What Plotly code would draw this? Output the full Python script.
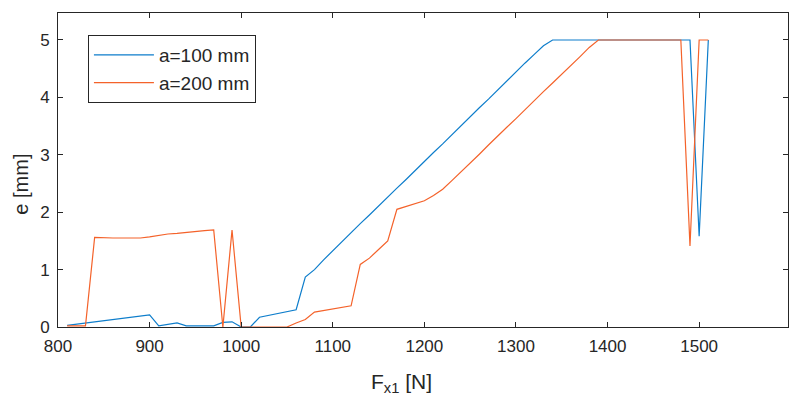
import plotly.graph_objects as go

# Force values F_x1 [N]
fx = [810, 820, 830, 840, 850, 860, 870, 880, 890, 900,
      910, 920, 930, 940, 950, 960, 970, 980, 990, 1000,
      1010, 1020, 1030, 1040, 1050, 1060, 1070, 1080, 1090, 1100,
      1110, 1120, 1130, 1140, 1150, 1160, 1170, 1180, 1190, 1200,
      1210, 1220, 1230, 1240, 1250, 1260, 1270, 1280, 1290, 1300,
      1310, 1320, 1330, 1340, 1350, 1360, 1370, 1380, 1390, 1400,
      1410, 1420, 1430, 1440, 1450, 1460, 1470, 1480, 1490, 1500,
      1510]

e_a100 = [0.03, 0.05, 0.08, 0.10, 0.12, 0.14, 0.16, 0.18, 0.20, 0.21,
          0.02, 0.05, 0.07, 0.02, 0.02, 0.02, 0.02, 0.08, 0.09, 0.00,
          0.00, 0.17, 0.20, 0.23, 0.26, 0.30, 0.87, 1.00, 1.17, 1.33,
          1.49, 1.64, 1.80, 1.95, 2.11, 2.26, 2.42, 2.57, 2.73, 2.88,
          3.04, 3.19, 3.35, 3.51, 3.66, 3.82, 3.97, 4.13, 4.29, 4.44,
          4.60, 4.75, 4.90, 5.00, 5.00, 5.00, 5.00, 5.00, 5.00, 5.00,
          5.00, 5.00, 5.00, 5.00, 5.00, 5.00, 5.00, 5.00, 5.00, 1.58,
          5.00]

e_a200 = [0.02, 0.02, 0.02, 1.56, 1.55, 1.55, 1.55, 1.55, 1.55, 1.57,
          1.60, 1.62, 1.63, 1.65, 1.66, 1.68, 1.69, 0.00, 1.69, 0.00,
          0.00, 0.00, 0.00, 0.00, 0.00, 0.07, 0.13, 0.26, 0.29, 0.31,
          0.34, 0.37, 1.09, 1.20, 1.35, 1.50, 2.05, 2.10, 2.15, 2.20,
          2.29, 2.40, 2.55, 2.70, 2.86, 3.01, 3.17, 3.33, 3.48, 3.63,
          3.79, 3.94, 4.10, 4.25, 4.40, 4.56, 4.71, 4.87, 5.00, 5.00,
          5.00, 5.00, 5.00, 5.00, 5.00, 5.00, 5.00, 5.00, 1.41, 5.00,
          5.00]

series_names = ["a=100 mm", "a=200 mm"]
x_ticks = [800, 900, 1000, 1100, 1200, 1300, 1400, 1500]
y_ticks = [0, 1, 2, 3, 4, 5]
x_title = "F<sub>x1</sub> [N]"
y_title = "e [mm]"

FONT = "Liberation Sans, Arial, Helvetica, sans-serif"
AXC = "#262626"

fig = go.Figure()
fig.add_trace(go.Scatter(x=fx, y=e_a100, mode="lines", name=series_names[0],
                         line=dict(color="#0D7DCB", width=1.2)))
fig.add_trace(go.Scatter(x=fx, y=e_a200, mode="lines", name=series_names[1],
                         line=dict(color="#F4622A", width=1.2)))

axis_common = dict(showline=True, linecolor=AXC, linewidth=1, mirror="allticks",
                   ticks="inside", ticklen=5, tickcolor=AXC, showgrid=False,
                   zeroline=False, automargin=False,
                   tickfont=dict(family=FONT, size=17, color=AXC))

# page body has an 8px margin, so the figure is sized to fill the rest of the window
fig.update_layout(
    width=792, height=405,
    margin=dict(l=50, r=12, t=5, b=86),
    paper_bgcolor="white", plot_bgcolor="white",
    font=dict(family=FONT, color=AXC),
    xaxis=dict(range=[800, 1597], tickvals=x_ticks, ticklabelstandoff=4, **axis_common),
    yaxis=dict(range=[0, 5.47], tickvals=y_ticks, ticklabelstandoff=4, **axis_common),
    legend=dict(x=0.041, y=0.93, xanchor="left", yanchor="top",
                bgcolor="white", bordercolor=AXC, borderwidth=1,
                font=dict(family=FONT, size=19, color=AXC),
                itemwidth=60, tracegroupgap=2),
    showlegend=True,
    annotations=[
        dict(text=x_title, x=0.47, y=-0.178, xref="paper", yref="paper",
             xanchor="center", yanchor="middle", showarrow=False,
             font=dict(family=FONT, size=21, color=AXC)),
        dict(text=y_title, x=-0.05, y=0.455, xref="paper", yref="paper",
             xanchor="center", yanchor="middle", showarrow=False, textangle=-90,
             font=dict(family=FONT, size=20, color=AXC)),
    ],
)

fig.write_html("out.html")
